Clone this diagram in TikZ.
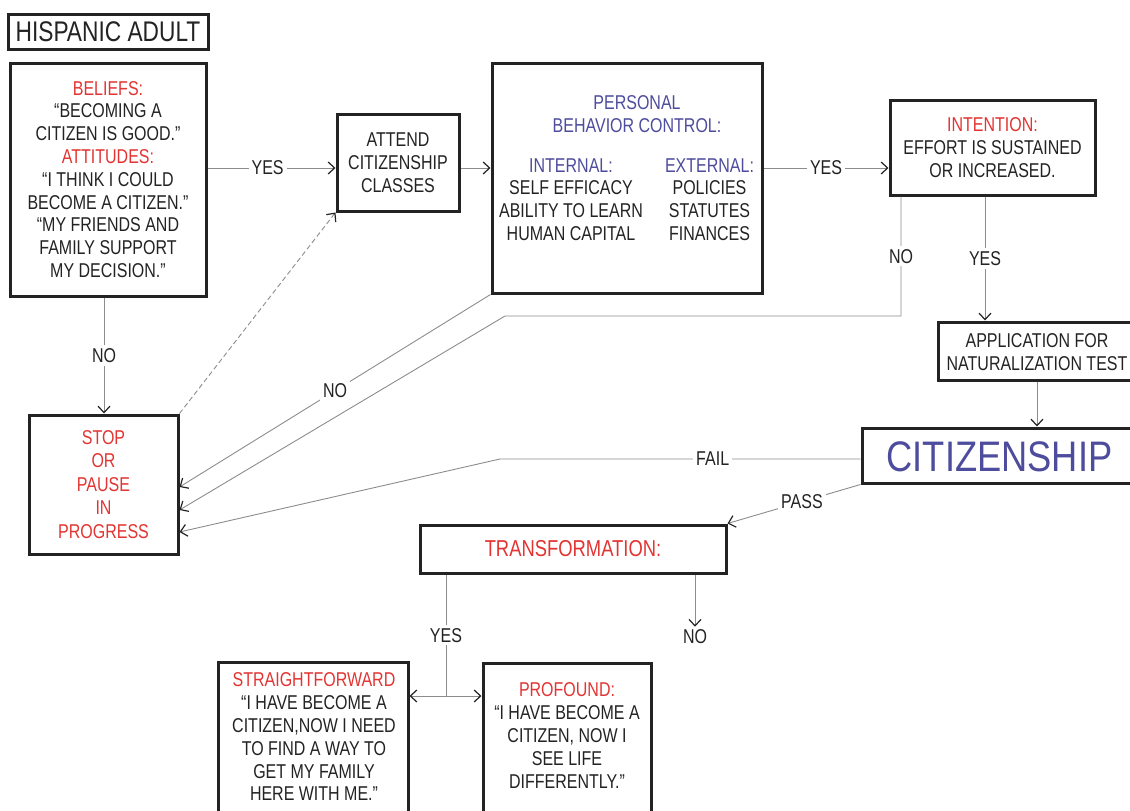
\documentclass[tikz,border=0pt]{standalone}
\usepackage{fontspec}
\setmainfont[FakeStretch=0.8]{Liberation Sans}
\newfontfamily\citfont[FakeStretch=0.85]{Liberation Sans}
\usetikzlibrary{arrows.meta,calc}
\definecolor{tred}{RGB}{226,52,50}
\definecolor{tblue}{RGB}{78,76,156}
\definecolor{ink}{RGB}{35,35,35}
\definecolor{wire}{RGB}{140,140,140}
\begin{document}
\begin{tikzpicture}[x=1pt,y=-1pt,
  >={Straight Barb[length=6.5pt,width=12pt,line width=1.2pt,color=ink]},
  box/.style={draw=ink, line width=3pt, inner sep=0pt, align=center, text=ink},
  txt/.style={align=center, text=ink, inner sep=0pt},
  body/.style={font=\fontsize{20}{22.8}\selectfont},
  wirestyle/.style={draw=wire, line width=0.9pt},
  arr/.style={wirestyle, ->},
  lbl/.style={fill=white, inner sep=3pt, text=ink, font=\fontsize{20}{22}\selectfont},
]
\useasboundingbox (0,0) rectangle (1130,811);
\clip (0,0) rectangle (1130,811);

% boxes
\node[box, minimum width=200pt, minimum height=35pt, font=\fontsize{28.4}{30}\selectfont] (hisp) at (108,31.5) {HISPANIC ADULT};
\node[box, body, minimum width=196pt, minimum height=233pt] (bel) at (108,179.5)
  {\textcolor{tred}{BELIEFS:}\\“BECOMING A\\CITIZEN IS GOOD.”\\\textcolor{tred}{ATTITUDES:}\\“I THINK I COULD\\BECOME A CITIZEN.”\\“MY FRIENDS AND\\FAMILY SUPPORT\\MY DECISION.”};
\node[box, body, minimum width=122pt, minimum height=97pt] (att) at (398,162.5) {ATTEND\\CITIZENSHIP\\CLASSES};
\node[box, minimum width=270pt, minimum height=230pt] (pbc) at (627,178) {};
\node[txt, body, text=tblue] (pbct) at (637,114.5) {PERSONAL\\BEHAVIOR CONTROL:};
\node[txt, body] (pbci) at (571,199.5) {\textcolor{tblue}{INTERNAL:}\\SELF EFFICACY\\ABILITY TO LEARN\\HUMAN CAPITAL};
\node[txt, body] (pbce) at (709.5,199.5) {\textcolor{tblue}{EXTERNAL:}\\POLICIES\\STATUTES\\FINANCES};
\node[box, body, minimum width=205pt, minimum height=95pt] (int) at (992.5,147.5) {\textcolor{tred}{INTENTION:}\\EFFORT IS SUSTAINED\\OR INCREASED.};
\node[box, minimum width=210pt, minimum height=58pt] (app) at (1043,351) {};
\node[txt, body] (appt) at (1037,352) {APPLICATION FOR\\NATURALIZATION TEST};
\node[box, minimum width=290pt, minimum height=55pt] (cit) at (1007,455.5) {};
\node[txt, text=tblue, font=\citfont\fontsize{42.7}{44}\selectfont] (citt) at (999.5,457) {CITIZENSHIP};
\node[box, text=tred, font=\fontsize{20}{23.5}\selectfont, minimum width=149pt, minimum height=139pt] (stop) at (103.5,484.5) {STOP\\OR\\PAUSE\\IN\\PROGRESS};
\node[box, minimum width=306pt, minimum height=48pt, text=tred, font=\fontsize{23}{25}\selectfont] (trans) at (573,549) {TRANSFORMATION:};
\node[box, minimum width=190pt, minimum height=200pt] (sf) at (313,762) {};
\node[txt, body] (sft) at (314,737) {\textcolor{tred}{STRAIGHTFORWARD}\\“I HAVE BECOME A\\CITIZEN,NOW I NEED\\TO FIND A WAY TO\\GET MY FAMILY\\HERE WITH ME.”};
\node[box, minimum width=168pt, minimum height=200pt] (pro) at (567,763) {};
\node[txt, body] (prot) at (567,735.5) {\textcolor{tred}{PROFOUND:}\\“I HAVE BECOME A\\CITIZEN, NOW I\\SEE LIFE\\DIFFERENTLY.”};
\node[txt, inner sep=3pt, font=\fontsize{20}{22}\selectfont] (no3) at (695,637) {NO};

% helper coordinates
\coordinate (r1) at (0,168);
\coordinate (c1) at (985,0);
\coordinate (c2) at (901,0);
\coordinate (r2) at (0,316);
\coordinate (k1) at (505,316);
\coordinate (r3) at (0,510);
\coordinate (r4) at (0,487);
\coordinate (c3) at (104,0);
\coordinate (c4) at (1037,0);
\coordinate (r5) at (0,459);
\coordinate (k2) at (500,459);
\coordinate (r6) at (0,532);
\coordinate (c5) at (695,0);
\coordinate (c6) at (446,0);
\coordinate (r7) at (0,696);

% connectors
\draw[arr] (bel.east |- r1) -- node[lbl, pos=0.47]{YES} (att.west |- r1);
\draw[arr] (att.east |- r1) -- (pbc.west |- r1);
\draw[arr] (pbc.east |- r1) -- node[lbl]{YES} (int.west |- r1);
\draw[arr] (int.south -| c1) -- node[lbl]{YES} (app.north -| c1);
\draw[arr] (int.south -| c2) -- node[lbl]{NO} (c2 |- r2) -- (k1) -- (stop.east |- r3);
\draw[arr] (pbc.south west) -- node[lbl]{NO} (stop.east |- r4);
\draw[arr] (bel.south -| c3) -- node[lbl]{NO} (stop.north -| c3);
\draw[arr, dash pattern=on 5pt off 3pt] (stop.north east) -- (att.south west);
\draw[arr] (app.south -| c4) -- (cit.north -| c4);
\draw[arr] (cit.west |- r5) -- node[lbl, pos=0.41]{FAIL} (k2) -- (stop.east |- r6);
\draw[arr] (cit.south west) -- node[lbl, pos=0.44]{PASS} (trans.north east);
\draw[arr] (trans.south -| c5) -- (no3.north);
\draw[wirestyle] (trans.south -| c6) -- node[lbl]{YES} (c6 |- r7);
\draw[wirestyle, <->] (sf.east |- r7) -- (pro.west |- r7);
\end{tikzpicture}
\end{document}
